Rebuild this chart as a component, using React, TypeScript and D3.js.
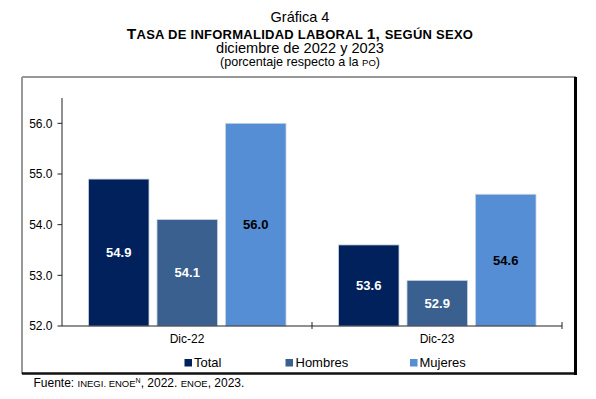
import React from "react";
import * as d3 from "d3";

const categories = ["Dic-22", "Dic-23"];
const seriesNames = ["Total", "Hombres", "Mujeres"];
const totalValues = [54.9, 53.6];
const hombresValues = [54.1, 52.9];
const mujeresValues = [56.0, 54.6];
const yTicks = [52, 53, 54, 55, 56];

const colors = ["#00215C", "#3A6090", "#558ED5"];
const labelColors = ["#ffffff", "#ffffff", "#000000"];
const FONT = "'Liberation Sans', Arial, sans-serif";

export default function App() {
  const W = 596, H = 399;
  const left = 62, right = 562, top = 98, bottom = 326;
  const x0 = d3.scaleBand<string>().domain(categories).range([left, right]).padding(0);
  const x1 = d3.scaleBand<string>().domain(seriesNames).range([26.5, 224]).paddingInner(0.117).paddingOuter(0);
  const y = d3.scaleLinear().domain([52, 56.5]).range([bottom, top]);
  const allSeries = [totalValues, hombresValues, mujeresValues];

  const legendItems = [
    { name: "Total", sx: 184.5, tx: 194 },
    { name: "Hombres", sx: 285.5, tx: 295.5 },
    { name: "Mujeres", sx: 410, tx: 419.5 },
  ];

  return (
    <svg width={W} height={H} style={{ position: "absolute", left: 0, top: 0, background: "#fff" }} fontFamily={FONT}>
      {/* Titles */}
      <text x={300} y={21.5} textAnchor="middle" fontSize={14.5} fill="#000">Gráfica 4</text>
      <text x={300} y={38.5} textAnchor="middle" fontWeight="bold" fill="#000" letterSpacing={0.25}>
        <tspan fontSize={15.5}>T</tspan>
        <tspan fontSize={13}>ASA DE INFORMALIDAD LABORAL </tspan>
        <tspan fontSize={15.5}>1, </tspan>
        <tspan fontSize={13}>SEGÚN SEXO</tspan>
      </text>
      <text x={300} y={53} textAnchor="middle" fontSize={14.6} fill="#000">diciembre de 2022 y 2023</text>
      <text x={300} y={65.5} textAnchor="middle" fontSize={12.6} fill="#000">
        <tspan>(porcentaje respecto a la </tspan>
        <tspan fontSize={9.5}>PO</tspan>
        <tspan>)</tspan>
      </text>

      {/* Frame */}
      <line x1={22} y1={77} x2={576} y2={77} stroke="#333" strokeWidth={1.2} />
      <line x1={22} y1={77} x2={22} y2={374} stroke="#999" strokeWidth={2} />
      <line x1={22} y1={373.5} x2={577} y2={373.5} stroke="#111" strokeWidth={2.5} />
      <line x1={575.5} y1={77} x2={575.5} y2={375} stroke="#000" strokeWidth={3} />

      {/* Bars */}
      {categories.map((c, ci) => (
        <g key={c} transform={`translate(${x0(c)},0)`}>
          {seriesNames.map((s, si) => {
            const v = allSeries[si][ci];
            const bx = x1(s)!;
            const by = y(v);
            const bh = y(52) - by;
            return (
              <g key={s}>
                <rect x={bx} y={by} width={x1.bandwidth()} height={bh} fill={colors[si]} stroke="#c9d3e0" strokeWidth={0.8} />
                <text x={bx + x1.bandwidth() / 2} y={by + bh / 2 + 4.5} textAnchor="middle" fontSize={13} fontWeight="bold" fill={labelColors[si]}>
                  {v.toFixed(1)}
                </text>
              </g>
            );
          })}
        </g>
      ))}

      {/* Y axis */}
      <line x1={left} y1={top} x2={left} y2={bottom} stroke="#222" strokeWidth={1} />
      {yTicks.map((t) => (
        <g key={t}>
          <line x1={left - 4.5} y1={y(t)} x2={left} y2={y(t)} stroke="#222" strokeWidth={1} />
          <text x={52.5} y={y(t) + 4.2} textAnchor="end" fontSize={12} fill="#000">{t.toFixed(1)}</text>
        </g>
      ))}

      {/* X axis */}
      <line x1={left} y1={bottom} x2={right} y2={bottom} stroke="#222" strokeWidth={1} />
      {[...categories.map((c) => x0(c)! + x0.bandwidth())].map((xx, i) => (
        <line key={i} x1={xx} y1={bottom - 4} x2={xx} y2={bottom + 3} stroke="#222" strokeWidth={1} />
      ))}
      {categories.map((c) => (
        <text key={c} x={x0(c)! + x0.bandwidth() / 2} y={342.5} textAnchor="middle" fontSize={12} fill="#000">{c}</text>
      ))}

      {/* Legend */}
      {legendItems.map((it, i) => (
        <g key={it.name}>
          <rect x={it.sx} y={359} width={7.5} height={7.5} fill={colors[i]} />
          <text x={it.tx} y={366.5} fontSize={13} fill="#000">{it.name}</text>
        </g>
      ))}

      {/* Footnote */}
      <text x={33.5} y={387} fontSize={12} fill="#000">
        <tspan>Fuente: </tspan>
        <tspan fontSize={9.5}>INEGI. ENOE</tspan>
        <tspan fontSize={7} dy={-4.5}>N</tspan>
        <tspan dy={4.5}>, 2022. </tspan>
        <tspan fontSize={9.5}>ENOE</tspan>
        <tspan>, 2023.</tspan>
      </text>
    </svg>
  );
}
